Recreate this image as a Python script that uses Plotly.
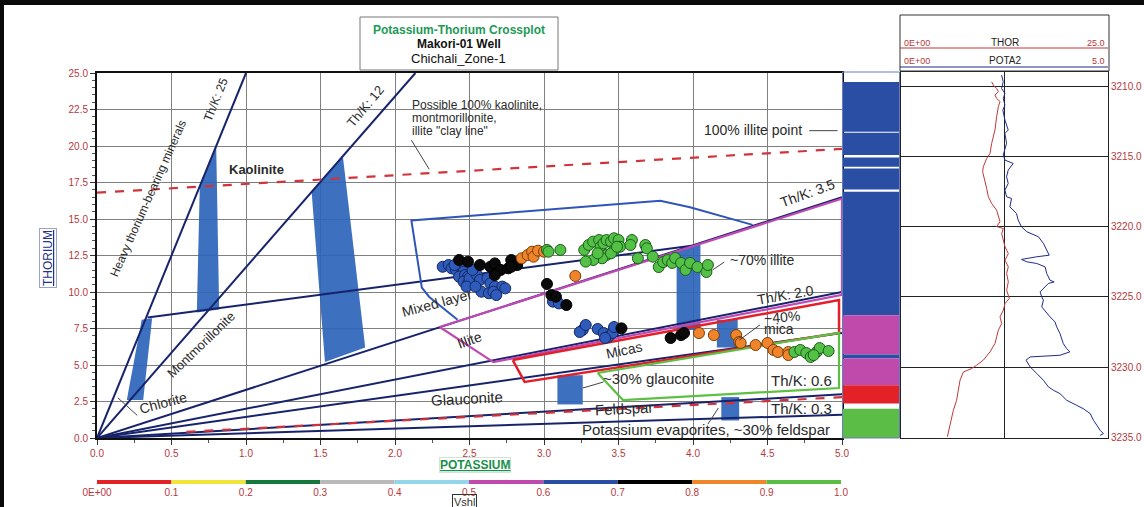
import plotly.graph_objects as go

# ---------------------------------------------------------------
# Crossplot samples (Potassium %, Thorium ppm) grouped by Vshl class
# ---------------------------------------------------------------
blue_k = [2.32, 2.36, 2.38, 2.41, 2.44, 2.46, 2.43, 2.47, 2.49, 2.46, 2.49, 2.53, 2.50, 2.55,
          2.57, 2.62, 2.64, 2.67, 2.72, 2.74, 2.58, 2.63, 2.66, 2.68, 2.48, 2.54, 2.40, 2.52,
          3.06, 3.10, 3.26, 3.24, 3.28, 3.36, 3.40, 3.43, 3.46, 3.47, 3.41]
blue_th = [11.73, 11.85, 11.62, 11.51, 11.73, 11.39, 11.05, 11.16, 11.05, 10.71, 10.59, 10.48, 10.94, 11.16,
           10.82, 10.94, 10.59, 10.37, 10.37, 10.25, 10.02, 9.91, 10.02, 9.79, 10.37, 10.37, 11.85, 11.51,
           9.34, 9.22, 7.40, 7.26, 7.74, 7.47, 7.19, 6.92, 7.19, 7.60, 6.85]

black_k = [2.43, 2.49, 2.57, 2.64, 2.67, 2.71, 2.67, 2.76, 2.78, 2.82, 2.78, 3.02, 3.05, 3.08,
           3.15, 3.52, 3.85, 3.92, 3.94]
black_th = [12.19, 12.08, 11.85, 11.73, 11.96, 11.51, 11.16, 11.62, 12.19, 11.85, 11.73, 10.55, 9.79, 9.68,
            9.11, 7.51, 6.85, 7.05, 7.19]

orange_k = [2.85, 2.89, 2.92, 2.93, 2.96, 3.00, 3.21, 4.04, 4.14, 4.29, 4.31, 4.32, 4.42, 4.50,
            4.54, 4.57, 4.64, 4.64]
orange_th = [12.31, 12.53, 12.76, 12.42, 12.83, 12.76, 11.10, 7.19, 7.05, 7.05, 6.58, 6.51, 6.37, 6.51,
             6.03, 5.89, 5.89, 5.68]

green_k = [3.02, 3.03, 3.11, 3.27, 3.30, 3.33, 3.37, 3.38, 3.40, 3.42, 3.45, 3.47, 3.50, 3.51,
           3.47, 3.42, 3.39, 3.33, 3.28, 3.36, 3.45, 3.49, 3.59, 3.58, 3.68, 3.69, 3.63, 3.73,
           3.77, 3.80, 3.83, 3.86, 3.88, 3.92, 3.95, 3.98, 4.03, 4.09, 4.10,
           4.68, 4.72, 4.76, 4.79, 4.83, 4.85, 4.91, 4.81]
green_th = [12.88, 12.76, 12.88, 12.88, 13.22, 13.45, 13.56, 13.10, 13.33, 13.56, 13.45, 13.68, 13.56, 13.10,
            12.88, 12.53, 12.31, 12.19, 12.08, 12.65, 12.65, 13.10, 13.56, 13.22, 13.22, 12.99, 12.31, 12.42,
            11.71, 12.05, 12.19, 11.99, 12.33, 11.99, 11.51, 11.99, 11.71, 11.37, 11.85,
            5.89, 6.03, 5.82, 5.55, 5.89, 6.16, 5.96, 5.68]

# ---------------------------------------------------------------
# Well logs (depth in m)
# ---------------------------------------------------------------
thor_depth = [3209.70, 3209.93, 3210.17, 3210.40, 3210.64, 3210.88, 3211.10, 3211.47, 3212.18, 3213.13,
              3214.08, 3214.80, 3215.15, 3215.75, 3216.10, 3216.70, 3217.29, 3217.88, 3218.36, 3218.83,
              3219.30, 3219.66, 3220.00, 3220.14, 3220.50, 3220.97, 3221.44, 3221.92, 3222.39, 3222.87,
              3223.34, 3223.94, 3224.53, 3225.12, 3225.48, 3225.95, 3226.43, 3226.90, 3227.38, 3227.85,
              3228.33, 3228.92, 3229.51, 3229.87, 3230.11, 3230.35, 3230.94, 3231.65, 3232.36, 3233.08,
              3233.55, 3234.02, 3234.50, 3234.97]
thor_val = [10.95, 11.15, 11.55, 11.76, 11.35, 11.55, 11.96, 11.76, 11.55, 11.35,
            10.95, 10.75, 10.35, 9.94, 9.86, 10.14, 10.35, 10.55, 10.95, 11.55,
            11.76, 11.96, 11.55, 12.36, 12.16, 12.36, 12.56, 12.96, 12.56, 12.96,
            12.76, 12.96, 12.76, 13.08, 12.56, 12.36, 11.96, 12.16, 11.76, 11.55,
            11.35, 10.75, 9.94, 9.14, 8.53, 7.53, 7.13, 6.92, 6.72, 6.32,
            6.12, 5.92, 5.72, 5.60]

pota_depth = [3209.22, 3209.69, 3210.17, 3210.52, 3210.88, 3211.35, 3211.71, 3212.42, 3213.13, 3213.37,
              3214.08, 3214.56, 3214.91, 3215.27, 3215.51, 3215.98, 3216.46, 3216.93, 3217.41, 3217.88,
              3218.00, 3218.60, 3219.07, 3219.54, 3220.02, 3220.37, 3220.61, 3220.73, 3221.20, 3221.68,
              3222.04, 3222.15, 3222.27, 3222.34, 3222.51, 3222.63, 3222.87, 3223.34, 3223.82, 3223.94,
              3224.05, 3224.29, 3224.65, 3225.00, 3225.24, 3225.72, 3226.19, 3226.43, 3226.78, 3227.14,
              3227.61, 3228.33, 3228.68, 3228.92, 3229.16, 3229.28, 3229.51, 3229.99, 3230.46, 3230.94,
              3231.41, 3231.65, 3231.89, 3232.36, 3232.72, 3232.96, 3233.31, 3233.79, 3234.14, 3234.50,
              3234.74, 3234.86]
pota_val = [2.43, 2.47, 2.43, 2.51, 2.47, 2.51, 2.46, 2.51, 2.59, 2.51,
            2.55, 2.51, 2.47, 2.51, 2.71, 2.59, 2.55, 2.59, 2.51, 2.55,
            2.67, 2.63, 2.79, 2.83, 2.91, 3.04, 3.20, 3.32, 3.44, 3.52,
            3.58, 3.28, 3.08, 2.91, 3.04, 3.28, 3.48, 3.52, 3.60, 3.70,
            3.56, 3.48, 3.36, 3.40, 3.44, 3.40, 3.52, 3.60, 3.72, 3.76,
            3.84, 3.92, 4.00, 4.08, 3.84, 3.12, 3.02, 3.12, 3.28, 3.44,
            3.56, 3.68, 3.84, 4.00, 4.24, 4.40, 4.57, 4.65, 4.73, 4.81,
            4.89, 4.81]

# Vshl interval track
vshl_top = [3209.72, 3213.32, 3215.08, 3215.86, 3217.53, 3226.31, 3229.11, 3229.40, 3231.30, 3232.96]
vshl_base = [3213.25, 3214.90, 3215.75, 3217.36, 3226.31, 3229.11, 3229.40, 3231.30, 3232.60, 3235.05]
vshl_val = [0.65, 0.65, 0.65, 0.65, 0.65, 0.55, 0.65, 0.55, 0.05, 0.95]

# Vshl colour classes (0.1 wide)
vshl_classes = [0.0, 0.1, 0.2, 0.3, 0.4, 0.5, 0.6, 0.7, 0.8, 0.9, 1.0]
vshl_labels = ["0E+00", "0.1", "0.2", "0.3", "0.4", "0.5", "0.6", "0.7", "0.8", "0.9", "1.0"]
vshl_colors = ["#e32228", "#f1e43a", "#16783a", "#b9b9b9", "#93d6ea",
               "#c04aac", "#2b4ea5", "#000000", "#f0862a", "#5bbc46"]

# Template overlays (Th/K ratio lines and mineral zones)
fan_ratios = [25, 11.7, 3.3, 2.0, 1.44, 0.6, 0.32]
mixed_line_k = [0.34, 3.99]
mixed_line_th = [8.25, 13.17]
clay_line_k = [0.0, 5.0]
clay_line_th = [16.8, 19.8]
feldspar_line_k = [0.6, 5.0]
feldspar_line_th = [0.42, 2.8]

bands = {
    "chlorite": ([0.20, 0.31, 0.37, 0.30], [2.6, 2.6, 8.2, 8.1]),
    "montmorillonite": ([0.67, 0.82, 0.80, 0.69], [8.6, 8.8, 20.0, 17.3]),
    "kaolinite": ([1.53, 1.80, 1.65, 1.44], [5.2, 6.2, 19.3, 16.9]),
    "illite": ([3.89, 4.05, 4.05, 3.89], [7.4, 7.4, 13.4, 12.8]),
    "mica": ([4.16, 4.30, 4.30, 4.16], [6.2, 6.2, 8.1, 8.1]),
    "glauconite": ([3.09, 3.26, 3.26, 3.09], [2.3, 2.3, 4.3, 4.3]),
    "feldspar": ([4.19, 4.31, 4.31, 4.19], [1.2, 1.2, 2.8, 2.8]),
}

mixed_zone_k = [4.40, 3.98, 3.78, 2.11, 2.18, 2.23, 2.42]
mixed_zone_th = [14.6, 15.8, 16.25, 14.9, 10.3, 9.66, 8.1]
illite_zone_k = [2.30, 5.0, 5.0, 2.66, 2.30]
illite_zone_th = [7.6, 16.4, 9.8, 5.2, 7.6]
mica_zone_k = [2.79, 4.98, 4.98, 2.87, 2.79]
mica_zone_th = [5.34, 9.45, 7.2, 3.84, 5.34]
glauc_zone_k = [3.36, 4.98, 4.98, 3.53, 3.36]
glauc_zone_th = [4.45, 7.2, 3.42, 2.6, 4.45]

W, H = 1144, 507
RED_TXT = "#b5383c"
FONT = "Liberation Sans, Arial, sans-serif"


def fx(p):
    return p / W


def fy(p):
    return 1 - p / H


def vshl_color(v):
    idx = min(int(v * 10), 9)
    return vshl_colors[idx]


fig = go.Figure()

# ---- mineral bands ----
for name, (bk, bt) in bands.items():
    fig.add_trace(go.Scatter(x=bk + [bk[0]], y=bt + [bt[0]], mode="lines", fill="toself",
                             fillcolor="rgba(45,100,185,0.92)", line=dict(width=0),
                             hoverinfo="skip", xaxis="x", yaxis="y"))

# ---- Th/K ratio fan from origin ----
fan_x, fan_y = [], []
for r in fan_ratios:
    kmax = min(5.0, 25.0 / r)
    fan_x += [0.0, kmax, None]
    fan_y += [0.0, kmax * r, None]
fan_x += mixed_line_k
fan_y += mixed_line_th
fig.add_trace(go.Scatter(x=fan_x, y=fan_y, mode="lines", line=dict(color="#17236b", width=2),
                         hoverinfo="skip"))

# ---- dashed reference lines ----
for lk, lt in [(clay_line_k, clay_line_th), (feldspar_line_k, feldspar_line_th)]:
    fig.add_trace(go.Scatter(x=lk, y=lt, mode="lines",
                             line=dict(color="#d0333b", width=2.2, dash="dash"), hoverinfo="skip"))

# ---- zone outlines ----
fig.add_trace(go.Scatter(x=mixed_zone_k, y=mixed_zone_th, mode="lines",
                         line=dict(color="#2f55b8", width=2), hoverinfo="skip"))
fig.add_trace(go.Scatter(x=illite_zone_k, y=illite_zone_th, mode="lines",
                         line=dict(color="#c04ab4", width=2.2), hoverinfo="skip"))
fig.add_trace(go.Scatter(x=mica_zone_k, y=mica_zone_th, mode="lines",
                         line=dict(color="#e2202c", width=2.5), hoverinfo="skip"))
fig.add_trace(go.Scatter(x=glauc_zone_k, y=glauc_zone_th, mode="lines",
                         line=dict(color="#5cc043", width=2.2), hoverinfo="skip"))

# ---- data points ----
for k, th, col, edge in [(blue_k, blue_th, "#2f5bbd", "#14285e"),
                         (black_k, black_th, "#0a0a0a", "#000000"),
                         (orange_k, orange_th, "#f0842a", "#7a3d08"),
                         (green_k, green_th, "#52c146", "#1e5e1c")]:
    fig.add_trace(go.Scatter(x=k, y=th, mode="markers",
                             marker=dict(size=11, color=col, line=dict(color=edge, width=1)),
                             hoverinfo="skip"))

# ---- Vshl strip ----
for top, base, v in zip(vshl_top, vshl_base, vshl_val):
    fig.add_trace(go.Bar(x=[0.5], y=[base - top], base=[top], width=[1.0],
                         marker=dict(color=vshl_color(v), line=dict(width=0)),
                         xaxis="x2", yaxis="y2", hoverinfo="skip"))

# ---- log curves ----
fig.add_trace(go.Scatter(x=thor_val, y=thor_depth, mode="lines",
                         line=dict(color="#c0393b", width=1), xaxis="x3", yaxis="y3", hoverinfo="skip"))
fig.add_trace(go.Scatter(x=pota_val, y=pota_depth, mode="lines",
                         line=dict(color="#1f2c8c", width=1), xaxis="x4", yaxis="y3", hoverinfo="skip"))

# ---- Vshl colour legend ----
for i in range(10):
    fig.add_trace(go.Scatter(x=[vshl_classes[i], vshl_classes[i + 1]], y=[0.5, 0.5], mode="lines",
                             line=dict(color=vshl_colors[i], width=4), xaxis="x5", yaxis="y5",
                             hoverinfo="skip"))

depth_ticks = [3210, 3215, 3220, 3225, 3230, 3235]
depth_range = [3235.05, 3209.0]

fig.update_layout(
    width=W, height=H, autosize=False, margin=dict(l=0, r=0, t=0, b=0, pad=0),
    paper_bgcolor="white", plot_bgcolor="white", showlegend=False, barmode="overlay",
    font=dict(family=FONT, size=10, color="#333"),
    xaxis=dict(domain=[fx(97), fx(842)], range=[0, 5], anchor="y", dtick=0.5, tick0=0,
               tickformat=".1f", ticks="outside", ticklen=5, tickcolor="#333",
               showgrid=True, gridcolor="#808080", gridwidth=1.4, zeroline=False,
               showline=True, linecolor="#111", linewidth=2, mirror=True,
               tickfont=dict(color=RED_TXT, size=10),
               minor=dict(dtick=0.25, ticks="outside", ticklen=3, tickcolor="#555", showgrid=False)),
    yaxis=dict(domain=[fy(438), fy(73)], range=[0, 25], anchor="x", dtick=2.5, tick0=0,
               tickformat=".1f", ticks="outside", ticklen=5, tickcolor="#333",
               showgrid=True, gridcolor="#808080", gridwidth=1.4, zeroline=False,
               showline=True, linecolor="#111", linewidth=2, mirror=True,
               tickfont=dict(color=RED_TXT, size=10),
               minor=dict(dtick=0.5, ticks="outside", ticklen=3, tickcolor="#555", showgrid=False)),
    xaxis2=dict(domain=[fx(843), fx(899)], range=[0, 1], anchor="y2", visible=False),
    yaxis2=dict(domain=[fy(438), fy(72)], range=depth_range, anchor="x2", visible=False),
    xaxis3=dict(domain=[fx(901), fx(1108)], range=[0, 25], anchor="y3", tickvals=[12.5],
                showticklabels=False, ticks="", showgrid=True, gridcolor="#222", gridwidth=1,
                zeroline=False, showline=True, linecolor="#222", linewidth=1, mirror=True),
    xaxis4=dict(range=[0, 5], overlaying="x3", anchor="y3", visible=False),
    yaxis3=dict(domain=[fy(438), fy(72)], range=depth_range, anchor="x3", side="right",
                tickvals=depth_ticks, ticktext=[f"{d:.1f}" for d in depth_ticks], ticks="",
                tickfont=dict(color=RED_TXT, size=10), showgrid=True, gridcolor="#222", gridwidth=1,
                zeroline=False, showline=True, linecolor="#222", linewidth=1, mirror=True),
    xaxis5=dict(domain=[fx(97), fx(841)], range=[0, 1], anchor="y5", tickvals=vshl_classes,
                ticktext=vshl_labels, ticks="", showgrid=False, zeroline=False, showline=False,
                tickfont=dict(color=RED_TXT, size=10)),
    yaxis5=dict(domain=[fy(485), fy(479)], range=[0, 1], anchor="x5", visible=False),
)
# fixed pixel layout: never let tick labels push the margins
fig.update_xaxes(automargin=False)
fig.update_yaxes(automargin=False)

shapes = []
# outer frame
shapes.append(dict(type="rect", xref="paper", yref="paper", x0=0, x1=1, y0=fy(5), y1=1,
                   fillcolor="#0a0a0a", line=dict(width=0)))
shapes.append(dict(type="rect", xref="paper", yref="paper", x0=0, x1=fx(4), y0=0, y1=1,
                   fillcolor="#0a0a0a", line=dict(width=0)))
# title box
shapes.append(dict(type="rect", xref="paper", yref="paper", x0=fx(360), x1=fx(558), y0=fy(70), y1=fy(17),
                   fillcolor="white", line=dict(color="#777", width=1)))
# log header box and curve scale lines
shapes.append(dict(type="rect", xref="paper", yref="paper", x0=fx(900), x1=fx(1109), y0=fy(71), y1=fy(15),
                   fillcolor="white", line=dict(color="#333", width=1)))
shapes.append(dict(type="line", xref="paper", yref="paper", x0=fx(900), x1=fx(1108), y0=fy(48), y1=fy(48),
                   line=dict(color="#c0393b", width=1)))
shapes.append(dict(type="line", xref="paper", yref="paper", x0=fx(900), x1=fx(1108), y0=fy(67), y1=fy(67),
                   line=dict(color="#1f2c8c", width=1)))
# strip outline
shapes.append(dict(type="rect", xref="paper", yref="paper", x0=fx(842.5), x1=fx(899.5), y0=fy(438), y1=fy(72),
                   line=dict(color="#6a7fb8", width=1)))
# label leader lines (data coordinates)
leaders = [
    ((2.11, 20.4), (2.23, 18.4)),
    ((4.78, 21.05), (4.97, 21.05)),
    ((4.21, 12.05), (4.13, 11.5)),
    ((4.45, 7.75), (4.31, 6.7)),
    ((3.26, 3.42), (3.40, 3.84)),
    ((4.10, 0.95), (4.17, 2.05)),
    ((0.14, 2.75), (0.27, 1.55)),
]
for (a, b) in leaders:
    shapes.append(dict(type="line", xref="x", yref="y", x0=a[0], y0=a[1], x1=b[0], y1=b[1],
                       line=dict(color="#444", width=1)))
fig.update_layout(shapes=shapes)

ann = []


def paper_text(px, py, text, **kw):
    d = dict(x=fx(px), y=fy(py), xref="paper", yref="paper", showarrow=False, text=text,
             xanchor=kw.pop("xanchor", "center"), yanchor="middle")
    d.update(kw)
    ann.append(d)


# titles
paper_text(459, 30, "<b>Potassium-Thorium Crossplot</b>", font=dict(color="#1d9a55", size=12))
paper_text(459, 44, "<b>Makori-01 Well</b>", font=dict(color="#111", size=12))
paper_text(459, 58, "Chichali_Zone-1", font=dict(color="#111", size=13))
# axis titles
paper_text(48, 258, "<u>THORIUM</u>", textangle=-90, font=dict(color="#23318f", size=12),
           bordercolor="#9aa3c8", borderwidth=1, borderpad=1)
paper_text(475, 465, "<b><u>POTASSIUM</u></b>", font=dict(color="#17914a", size=12),
           bordercolor="#cfe3d6", borderwidth=1, borderpad=0)
paper_text(464, 502, "Vshl", font=dict(color="#333", size=11),
           bordercolor="#333", borderwidth=1, borderpad=1)
# log header text
for yy, name, hi in [(43, "THOR", "25.0"), (61, "POTA2", "5.0")]:
    paper_text(902, yy, "0E+00", xanchor="left", font=dict(color=RED_TXT, size=9))
    paper_text(1005, yy, name, font=dict(color="#222", size=10))
    paper_text(1107, yy, hi, xanchor="right", font=dict(color=RED_TXT, size=9))

# template labels (data coordinates): text, K, Th, angle, anchor, font size
labels = [
    ("Th/K: 25", 0.80, 23.2, -68, "center", 12),
    ("Th/K: 12", 1.80, 22.7, -50, "center", 13),
    ("Heavy thorium-bearing minerals", 0.34, 16.4, -66, "center", 12),
    ("<b>Kaolinite</b>", 1.07, 18.4, 0, "center", 13),
    ("Possible 100% kaolinite,", 2.10, 22.8, 0, "left", 12),
    ("montmorillonite,", 2.10, 21.9, 0, "left", 12),
    ("illite \"clay line\"", 2.10, 21.0, 0, "left", 12),
    ("100% illite point", 4.40, 21.1, 0, "center", 14),
    ("Th/K: 3.5", 4.77, 16.8, -20, "center", 14),
    ("~70% illite", 4.46, 12.2, 0, "center", 14),
    ("Mixed layer", 2.28, 9.25, -15, "center", 14),
    ("Illite", 2.50, 6.7, -20, "center", 14),
    ("Th/K: 2.0", 4.62, 9.8, -10, "center", 14),
    ("~40%", 4.60, 8.3, -5, "center", 14),
    ("mica", 4.58, 7.45, 0, "center", 14),
    ("Micas", 3.54, 6.0, -12, "center", 14),
    ("Montmorillonite", 0.70, 6.4, -44, "center", 13),
    ("Chlorite", 0.44, 2.4, -15, "center", 14),
    ("~30% glauconite", 3.77, 4.1, 0, "center", 15),
    ("Glauconite", 2.48, 2.74, -3, "center", 15),
    ("Th/K: 0.6", 4.73, 3.97, 0, "center", 15),
    ("Feldspar", 3.54, 1.99, -3, "center", 15),
    ("Th/K: 0.3", 4.73, 2.05, 0, "center", 15),
    ("Potassium evaporites, ~30% feldspar", 4.09, 0.55, 0, "center", 15),
]
for txt, kx, ty, ang, anchor, fs in labels:
    ann.append(dict(x=kx, y=ty, xref="x", yref="y", showarrow=False, text=txt, textangle=ang,
                    xanchor=anchor, yanchor="middle", align=anchor,
                    font=dict(color="#2a2a2a", size=fs)))
fig.update_layout(annotations=ann)

fig.write_html("out.html")
